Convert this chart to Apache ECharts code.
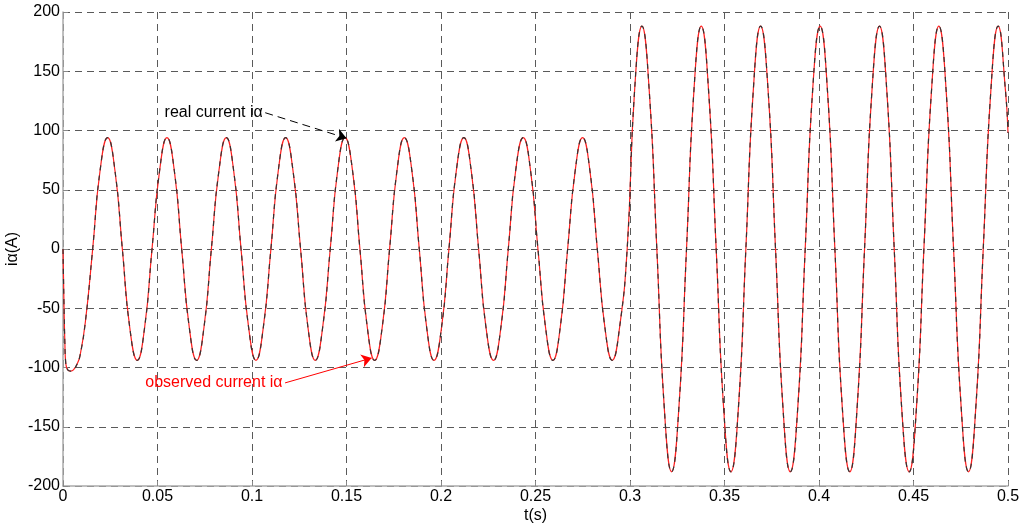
<!DOCTYPE html>
<html>
<head>
<meta charset="utf-8">
<script src="https://cdn.jsdelivr.net/npm/echarts@6/dist/echarts.min.js"></script>
<style>
  html, body { margin: 0; padding: 0; background: #fff; }
  #chart { width: 1024px; height: 528px; }
</style>
</head>
<body>
<div id="chart"></div>
<script>
// time samples (s)
const timeS = [
  0, 0.0005, 0.001, 0.0015, 0.0025, 0.004, 0.0055, 0.0075, 0.009, 0.0118, 0.0157,
  0.0196, 0.0236, 0.0275,
  0.0314, 0.0353, 0.0393, 0.0432, 0.0471, 0.0511, 0.0550, 0.0589,
  0.0628, 0.0668, 0.0707, 0.0746, 0.0785, 0.0825, 0.0864, 0.0903,
  0.0942, 0.0982, 0.1021, 0.1060, 0.1100, 0.1139, 0.1178, 0.1217,
  0.1257, 0.1296, 0.1335, 0.1374, 0.1414, 0.1453, 0.1492, 0.1532,
  0.1571, 0.1610, 0.1649, 0.1689, 0.1728, 0.1767, 0.1806, 0.1846,
  0.1885, 0.1924, 0.1963, 0.2003, 0.2042, 0.2081, 0.2121, 0.2160,
  0.2199, 0.2238, 0.2278, 0.2317, 0.2356, 0.2395, 0.2435, 0.2474,
  0.2513, 0.2553, 0.2592, 0.2631, 0.2670, 0.2710, 0.2749, 0.2788,
  0.2827, 0.2867, 0.2906, 0.2945, 0.2985, 0.3024, 0.3063, 0.3102,
  0.3142, 0.3181, 0.3220, 0.3259, 0.3299, 0.3338, 0.3377, 0.3416,
  0.3456, 0.3495, 0.3534, 0.3574, 0.3613, 0.3652, 0.3691, 0.3731,
  0.3770, 0.3809, 0.3848, 0.3888, 0.3927, 0.3966, 0.4006, 0.4045,
  0.4084, 0.4123, 0.4163, 0.4202, 0.4241, 0.4280, 0.4320, 0.4359,
  0.4398, 0.4437, 0.4477, 0.4516, 0.4555, 0.4595, 0.4634, 0.4673,
  0.4712, 0.4752, 0.4791, 0.4830, 0.4869, 0.4909, 0.4948, 0.4987,
  0.5
];

// real current iα (A)
const realCurrent = [
  0, -45, -80, -97, -102, -103, -102, -97, -90, -62, 0,
  66, 94, 66,
  0, -66, -94, -66, 0, 66, 94, 66,
  0, -66, -94, -66, 0, 66, 94, 66,
  0, -66, -94, -66, 0, 66, 94, 66,
  0, -66, -94, -66, 0, 66, 94, 66,
  0, -66, -94, -66, 0, 66, 94, 66,
  0, -66, -94, -66, 0, 66, 94, 66,
  0, -66, -94, -66, 0, 66, 94, 66,
  0, -66, -94, -66, 0, 66, 94, 66,
  0, -66, -94, -66, 0, 133, 188, 133,
  0, -133, -188, -133, 0, 133, 188, 133,
  0, -133, -188, -133, 0, 133, 188, 133,
  0, -133, -188, -133, 0, 133, 188, 133,
  0, -133, -188, -133, 0, 133, 188, 133,
  0, -133, -188, -133, 0, 133, 188, 133,
  0, -133, -188, -133, 0, 133, 188, 133,
  98
];

// the observer tracks the real current; the two traces lie on top of each other
const observedCurrent = realCurrent.slice();

// annotation arrows: [start, end] in data units
const realArrow = [[0.107, 115], [0.150, 93.5]];
const observedArrow = [[0.1175, -113], [0.1633, -92]];

const font = "'Liberation Sans', Arial, sans-serif";
const zip = (xs, ys) => xs.map((x, i) => [x, ys[i]]);

const chart = echarts.init(document.getElementById('chart'));

const gridLine = { show: true, lineStyle: { color: '#5a5a5a', type: [7, 5], width: 1 } };

chart.setOption({
  animation: false,
  backgroundColor: '#fff',
  grid: { left: 63, right: 16, top: 12, bottom: 42, containLabel: false, outerBoundsMode: 'none' },
  xAxis: {
    type: 'value',
    min: 0,
    max: 0.5,
    interval: 0.05,
    name: 't(s)',
    nameLocation: 'middle',
    nameGap: 22,
    nameMoveOverlap: false,
    nameTextStyle: { color: '#000', fontSize: 16, fontFamily: font },
    axisLine: { show: true, onZero: false, lineStyle: { color: '#aaa', width: 1.5 } },
    axisTick: { show: true, inside: true, length: 5, lineStyle: { color: '#888' } },
    axisLabel: { color: '#000', fontSize: 16, fontFamily: font, margin: 3, showMinLabel: true, showMaxLabel: true },
    splitLine: gridLine
  },
  yAxis: {
    type: 'value',
    min: -200,
    max: 200,
    interval: 50,
    name: 'iα(A)',
    nameLocation: 'middle',
    nameGap: 42,
    nameMoveOverlap: false,
    nameTextStyle: { color: '#000', fontSize: 16, fontFamily: font },
    axisLine: { show: true, onZero: false, lineStyle: { color: '#aaa', width: 1.5 } },
    axisTick: { show: true, inside: true, length: 5, lineStyle: { color: '#888' } },
    axisLabel: { color: '#000', fontSize: 16, fontFamily: font, margin: 3 },
    splitLine: gridLine
  },
  series: [
    {
      name: 'observed current iα',
      type: 'line',
      data: zip(timeS, observedCurrent),
      smooth: true,
      showSymbol: false,
      lineStyle: { color: '#ff2020', width: 1.2 },
      markLine: {
        silent: true,
        symbol: ['none', 'arrow'],
        symbolSize: 10,
        label: { show: false },
        lineStyle: { color: '#ff0000', type: 'solid', width: 1 },
        data: [[{ coord: observedArrow[0] }, { coord: observedArrow[1] }]]
      },
      markPoint: {
        silent: true,
        symbol: 'circle',
        symbolSize: 1,
        itemStyle: { color: 'rgba(0,0,0,0)' },
        label: {
          show: true, position: 'left', distance: 2,
          color: '#ff0000', fontSize: 16, fontFamily: font,
          formatter: 'observed current iα'
        },
        data: [{ coord: observedArrow[0] }]
      }
    },
    {
      name: 'real current iα',
      type: 'line',
      data: zip(timeS, realCurrent),
      smooth: true,
      showSymbol: false,
      lineStyle: { color: '#333', width: 1.2, type: [5, 5] },
      markLine: {
        silent: true,
        symbol: ['none', 'arrow'],
        symbolSize: 10,
        label: { show: false },
        lineStyle: { color: '#000', type: [8, 5], width: 1 },
        data: [[{ coord: realArrow[0] }, { coord: realArrow[1] }]]
      },
      markPoint: {
        silent: true,
        symbol: 'circle',
        symbolSize: 1,
        itemStyle: { color: 'rgba(0,0,0,0)' },
        label: {
          show: true, position: 'left', distance: 2,
          color: '#000', fontSize: 16, fontFamily: font,
          formatter: 'real current iα'
        },
        data: [{ coord: realArrow[0] }]
      }
    }
  ]
});
</script>
</body>
</html>
